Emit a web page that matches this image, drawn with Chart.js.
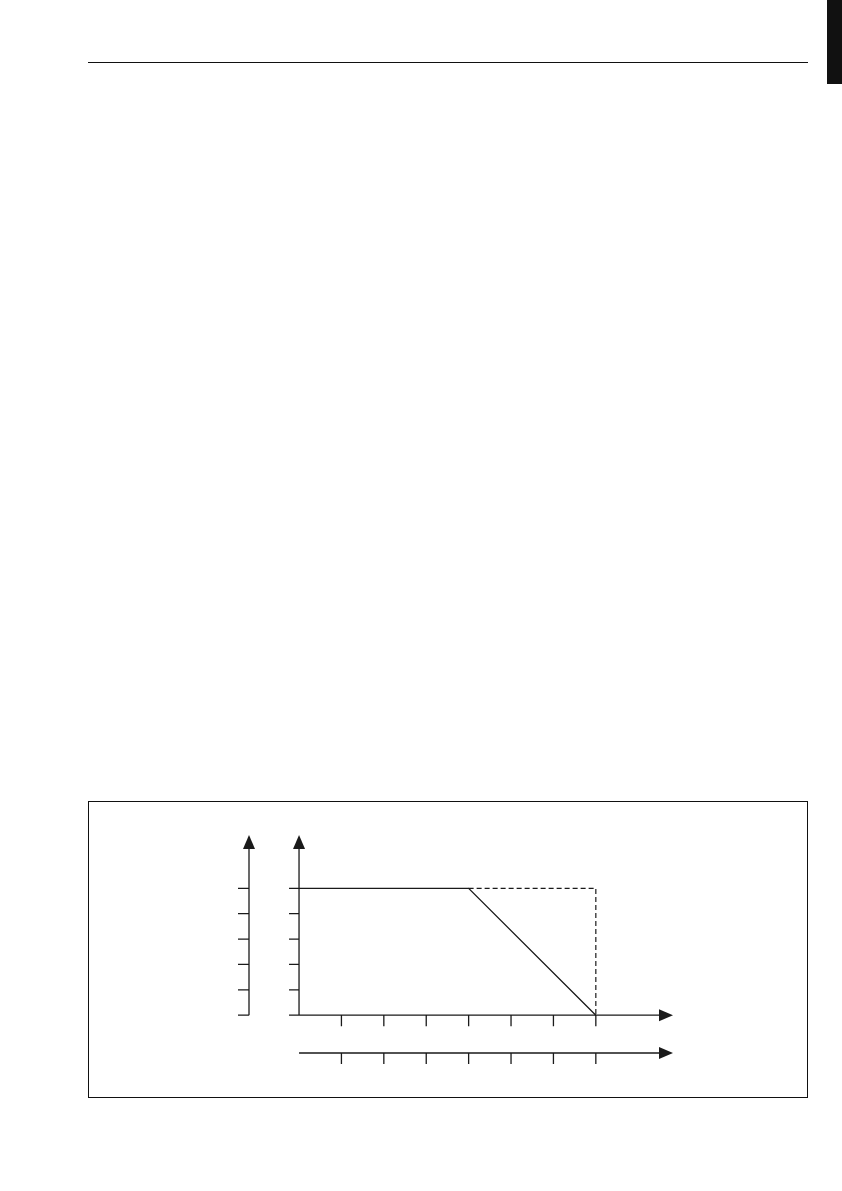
<!DOCTYPE html>
<html>
<head>
<meta charset="utf-8">
<script src="https://cdn.jsdelivr.net/npm/chart.js@4/dist/chart.umd.min.js"></script>
<style>
  html, body { margin: 0; padding: 0; background: #fff; }
  #page { position: relative; width: 842px; height: 1191px; overflow: hidden; }
  #rule { position: absolute; left: 88px; top: 62px; width: 720px; height: 0; border-top: 1.3px solid #111; }
  #tab { position: absolute; left: 827px; top: 0; width: 15px; height: 84px; background: #111; }
  #frame { position: absolute; left: 88px; top: 801px; width: 718px; height: 295px; border: 1.3px solid #111; }
  #chart { position: absolute; left: 0; top: 0; }
</style>
</head>
<body>
<div id="page">
  <div id="rule"></div>
  <div id="tab"></div>
  <div id="frame"></div>
  <canvas id="chart" width="842" height="1191"></canvas>
</div>
<script>
// tick positions on the axes (no labels in the original)
const xTicks = [1, 2, 3, 4, 5, 6, 7];
const yTicks = [0, 1, 2, 3, 4, 5];

// solid curve: flat, then falling to zero
const solidX = [0, 4, 7];
const solidY = [5, 5, 0];

// dashed outline: continuation of the flat level, then vertical drop
const dashX = [4, 7, 7];
const dashY = [5, 5, 0];

const ink = '#1a1a1a';

function toPoints(xs, ys) {
    return xs.map((x, i) => ({ x: x, y: ys[i] }));
}

function arrowHead(ctx, x, y, dir) {
    // filled triangle, tip at (x, y)
    ctx.beginPath();
    if (dir === 'up') {
        ctx.moveTo(x, y);
        ctx.lineTo(x - 6, y + 14);
        ctx.lineTo(x + 6, y + 14);
    } else {
        ctx.moveTo(x, y);
        ctx.lineTo(x - 14, y - 6);
        ctx.lineTo(x - 14, y + 6);
    }
    ctx.closePath();
    ctx.fill();
}

// draws both y axes, both x axes, ticks and arrows from the scales
const axesPlugin = {
    id: 'axesPlugin',
    beforeDatasetsDraw(chart) {
        const ctx = chart.ctx;
        const xs = chart.scales.x;
        const ys = chart.scales.y;
        const area = chart.chartArea;
        const x0 = xs.getPixelForValue(0);
        const y0 = ys.getPixelForValue(0);
        const xAux = area.left;
        const yAux = area.bottom;

        ctx.save();
        ctx.strokeStyle = ink;
        ctx.fillStyle = ink;
        ctx.lineWidth = 1.3;

        ctx.beginPath();
        // main y axis
        ctx.moveTo(x0, y0);
        ctx.lineTo(x0, area.top + 10);
        // secondary y axis
        ctx.moveTo(xAux, y0);
        ctx.lineTo(xAux, area.top + 10);
        // main x axis
        ctx.moveTo(x0, y0);
        ctx.lineTo(area.right - 10, y0);
        // secondary x axis
        ctx.moveTo(x0, yAux);
        ctx.lineTo(area.right - 10, yAux);

        yTicks.forEach(v => {
            const py = ys.getPixelForValue(v);
            ctx.moveTo(x0 - 10, py);
            ctx.lineTo(x0, py);
            ctx.moveTo(xAux - 11, py);
            ctx.lineTo(xAux, py);
        });
        xTicks.forEach(v => {
            const px = xs.getPixelForValue(v);
            ctx.moveTo(px, y0);
            ctx.lineTo(px, y0 + 11);
            ctx.moveTo(px, yAux);
            ctx.lineTo(px, yAux + 11);
        });
        ctx.stroke();

        arrowHead(ctx, x0, area.top, 'up');
        arrowHead(ctx, xAux, area.top, 'up');
        arrowHead(ctx, area.right, y0, 'right');
        arrowHead(ctx, area.right, yAux, 'right');
        ctx.restore();
    }
};

new Chart(document.getElementById('chart'), {
    type: 'scatter',
    data: {
        datasets: [
            {
                label: 'solid',
                data: toPoints(solidX, solidY),
                showLine: true,
                borderColor: ink,
                borderWidth: 1.3,
                pointRadius: 0,
                tension: 0
            },
            {
                label: 'dashed',
                data: toPoints(dashX, dashY),
                showLine: true,
                borderColor: ink,
                borderWidth: 1.2,
                borderDash: [5, 3],
                pointRadius: 0,
                tension: 0
            }
        ]
    },
    options: {
        responsive: false,
        animation: false,
        devicePixelRatio: 1,
        layout: { padding: { left: 249, right: 169, top: 835, bottom: 138 } },
        scales: {
            x: { type: 'linear', min: -1.18, max: 8.82, display: false },
            y: { type: 'linear', min: -1.49, max: 7.1, display: false }
        },
        plugins: {
            legend: { display: false },
            tooltip: { enabled: false }
        }
    },
    plugins: [axesPlugin]
});
</script>
</body>
</html>
